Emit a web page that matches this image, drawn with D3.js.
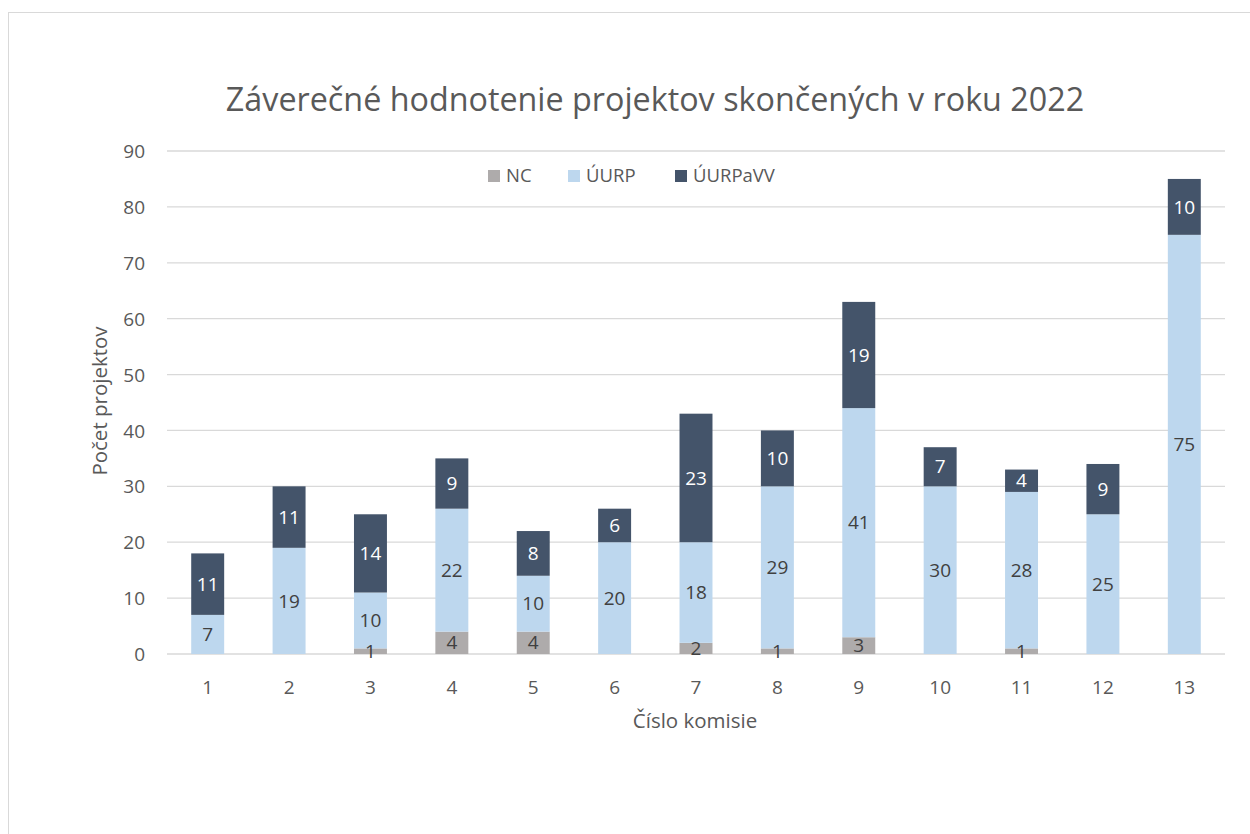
<!DOCTYPE html>
<html><head><meta charset="utf-8">
<script src="https://cdn.jsdelivr.net/npm/d3@7"></script>
<style>body{margin:0;background:#fff;} svg{display:block;}</style>
</head><body>
<script>
const categories = ["1","2","3","4","5","6","7","8","9","10","11","12","13"];
const seriesNames = ["NC","ÚURP","ÚURPaVV"];
const nc      = [0,0,1,4,4,0,2,1,3,0,1,0,0];
const uurp    = [7,19,10,22,10,20,18,29,41,30,28,25,75];
const uurpavv = [11,11,14,9,8,6,23,10,19,7,4,9,10];
const yTicks  = [0,10,20,30,40,50,60,70,80,90];
const colors  = ["#AEABAB","#BDD7EE","#44546A"];
const labelColors = ["#404040","#404040","#FFFFFF"];
const title = "Záverečné hodnotenie projektov skončených v roku 2022";
const xTitle = "Číslo komisie";
const yTitle = "Počet projektov";

(function(){
const W = 1250, H = 834;
const font = "'Open Sans', 'Noto Sans', sans-serif";
const svg = d3.select("body").append("svg").attr("width", W).attr("height", H);
svg.append("rect").attr("x",8.5).attr("y",12.5).attr("width",1260).attr("height",900)
  .attr("fill","#fff").attr("stroke","#D9D9D9").attr("stroke-width",1);

const pLeft = 167, pRight = 1225, pTop = 151, pBottom = 654;
const x = d3.scaleBand().domain(categories).range([pLeft,pRight]).paddingInner(0.595).paddingOuter(0.2975);
const y = d3.scaleLinear().domain([0,90]).range([pBottom,pTop]);

svg.append("g").selectAll("line").data(yTicks).join("line")
  .attr("x1",pLeft).attr("x2",pRight).attr("y1",d=>y(d)).attr("y2",d=>y(d))
  .attr("stroke","#D9D9D9").attr("stroke-width",1.3);

const yAxis = d3.axisLeft(y).tickValues(yTicks).tickSize(0).tickPadding(0);
const gy = svg.append("g").attr("transform",`translate(${pLeft-22},0)`).call(yAxis);
gy.select(".domain").remove();
gy.selectAll("text").attr("font-family",font).attr("font-size",19).attr("fill","#595959").attr("dy","0.35em").attr("dx",0);

const xAxis = d3.axisBottom(x).tickSize(0).tickPadding(0);
const gx = svg.append("g").attr("transform",`translate(0,${pBottom+33})`).call(xAxis);
gx.select(".domain").remove();
gx.selectAll("text").attr("font-family",font).attr("font-size",19).attr("fill","#595959").attr("dy","0.35em");

const table = categories.map((c,i)=>({cat:c, "NC":nc[i], "ÚURP":uurp[i], "ÚURPaVV":uurpavv[i]}));
const stacked = d3.stack().keys(seriesNames)(table);

stacked.forEach((layer,si)=>{
  const g = svg.append("g");
  g.selectAll("rect").data(layer).join("rect")
    .attr("x",d=>x(d.data.cat)).attr("width",x.bandwidth())
    .attr("y",d=>y(d[1])).attr("height",d=>y(d[0])-y(d[1]))
    .attr("fill",colors[si]);
});
stacked.forEach((layer,si)=>{
  const g = svg.append("g");
  g.selectAll("text").data(layer.filter(d=>d[1]-d[0]>0)).join("text")
    .attr("x",d=>x(d.data.cat)+x.bandwidth()/2)
    .attr("y",d=>y((d[0]+d[1])/2))
    .attr("dy","0.35em").attr("text-anchor","middle")
    .attr("font-family",font).attr("font-size",19).attr("fill",labelColors[si])
    .text(d=>d[1]-d[0]);
});

svg.append("text").attr("x",655).attr("y",100).attr("dy","0.35em").attr("text-anchor","middle")
  .attr("font-family",font).attr("font-size",32.3).attr("fill","#595959").text(title);
svg.append("text").attr("x",695).attr("y",721).attr("dy","0.35em").attr("text-anchor","middle")
  .attr("font-family",font).attr("font-size",20.5).attr("fill","#595959").text(xTitle);
svg.append("text").attr("transform","translate(100,401) rotate(-90)").attr("dy","0.35em").attr("text-anchor","middle")
  .attr("font-family",font).attr("font-size",20.5).attr("fill","#595959").text(yTitle);

const legendX = [488, 568, 675];
const lg = svg.append("g");
seriesNames.forEach((n,i)=>{
  lg.append("rect").attr("x",legendX[i]).attr("y",170).attr("width",12).attr("height",12).attr("fill",colors[i]);
  lg.append("text").attr("x",legendX[i]+18).attr("y",176).attr("dy","0.35em")
    .attr("font-family",font).attr("font-size",18.5).attr("fill","#595959").text(n);
});
})();
</script>
</body></html>
